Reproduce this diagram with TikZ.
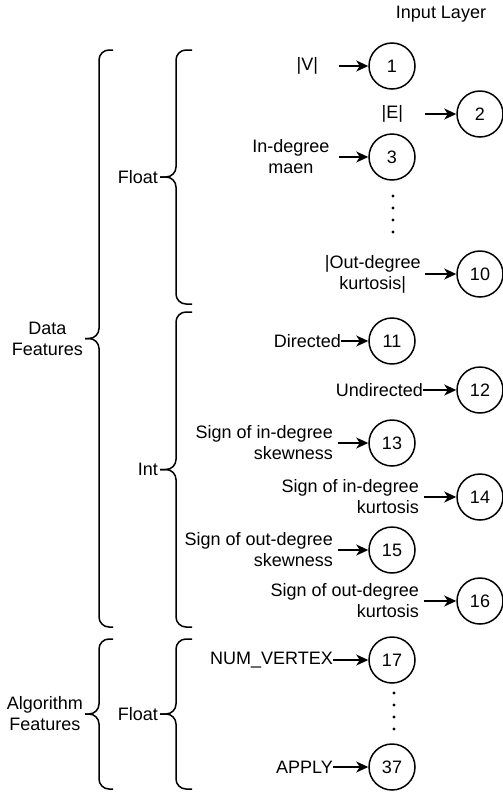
\documentclass[tikz,border=0pt]{standalone}
\usepackage{fontspec}
\setmainfont{Liberation Sans}
\usetikzlibrary{arrows.meta, calc, positioning}
\tikzset{
    neuron/.style={circle, draw, line width=1.5pt, fill=white, inner sep=0pt, minimum size=46pt, font=\fontsize{18}{21}\selectfont},
    featLabel/.style={inner sep=0pt, align=center, font=\fontsize{18}{21}\selectfont},
    signLabel/.style={inner xsep=5pt, inner ysep=0pt, align=right, font=\fontsize{18}{21}\selectfont},
    groupLabel/.style={inner xsep=2pt, inner ysep=0pt, align=center, font=\fontsize{18}{21}\selectfont},
    featEdge/.style={->, >={Stealth[length=12pt, width=11pt, inset=3.5pt]}, line width=1.5pt},
    braceLine/.style={line width=1.5pt, rounded corners=10pt},
}
\newcommand{\drawBrace}[5]{
    % 计算中点和尖端
    \coordinate (#5mid) at ($(#1)!0.5!(#2)$);
    \coordinate (#5tip) at ($(#5mid)+(-#3,0)$);
    % 上半和下半分开画
    \draw[braceLine] (#1) -- ($(#1)+(-#3/2,0)$) -- ($(#5mid)+(-#3/2,0)$) -- (#5tip);
    \draw[braceLine] (#5tip) -- ($(#5mid)+(-#3/2,0)$) -- ($(#2)+(-#3/2,0)$) -- (#2);
    \node[groupLabel, anchor=east] (#5) at (#5tip) {#4};
}
\newcommand{\feedLink}[2]{\draw[featEdge] (#1.east) -- (#2);}

\begin{document}
\begin{tikzpicture}[x=1pt, y=-1pt]
    \useasboundingbox (0,0) rectangle (503,793);

    \node[featLabel] (inputTitle) at (441,14) {Input Layer};

    \node[neuron] (c1) at (392,66) {1};
    \node[neuron] (c2) at (480,114) {2};
    \node[neuron] (c3) at (392,157) {3};
    \node[neuron] (c10) at (480,274) {10};
    \node[neuron] (c11) at (392,341) {11};
    \node[neuron] (c12) at (480,390) {12};
    \node[neuron] (c13) at (392,443) {13};
    \node[neuron] (c14) at (480,497) {14};
    \node[neuron] (c15) at (392,550) {15};
    \node[neuron] (c16) at (480,601) {16};
    \node[neuron] (c17) at (392,660) {17};
    \node[neuron] (c37) at (392,767) {37};

    \node[featLabel, anchor=east, minimum width=63pt] (l1) at (339,66) {|V|};
    \node[featLabel, anchor=east, minimum width=65pt] (l2) at (425,114) {|E|};
    \node[featLabel, anchor=east, minimum width=96pt] (l3) at (339,157) {In-degree\\maen};
    \node[featLabel, anchor=east, minimum width=104pt] (l10) at (425,274) {|Out-degree\\kurtosis|};
    \node[featLabel, anchor=east] (l11) at (341,341) {Directed};
    \node[featLabel, anchor=east] (l12) at (423,390) {Undirected};
    \node[signLabel, anchor=east] (l13) at (338,443) {Sign of in-degree\\skewness};
    \node[signLabel, anchor=east] (l14) at (424,497) {Sign of in-degree\\kurtosis};
    \node[signLabel, anchor=east] (l15) at (338,550) {Sign of out-degree\\skewness};
    \node[signLabel, anchor=east] (l16) at (424,601) {Sign of out-degree\\kurtosis};
    \node[featLabel, anchor=east] (l17) at (333,660) {NUM\_VERTEX};
    \node[featLabel, anchor=east] (l37) at (333,767) {APPLY};

    \foreach \n in {1,2,3,10,11,12,13,14,15,16,17,37}{
        \feedLink{l\n}{c\n}
    }

    \foreach \y in {196,208,220,232}
        \fill (393,\y) circle (1.6pt);
    \foreach \y in {693,705,717,729}
        \fill (394,\y) circle (1.6pt);

    \coordinate (dataTop) at (113,50);
    \coordinate (dataBot) at (113,627);
    \coordinate (algoTop) at (113,639);
    \coordinate (algoBot) at (113,789);
    \coordinate (floatTop) at (192,50);
    \coordinate (floatBot) at (192,304);
    \coordinate (intTop) at (192,312);
    \coordinate (intBot) at (192,627);
    \coordinate (aFloatTop) at (192,639);
    \coordinate (aFloatBot) at (192,789);

    \drawBrace{dataTop}{dataBot}{28}{Data\\Features}{dataF}
    \drawBrace{algoTop}{algoBot}{28}{Algorithm\\Features}{algoF}
    \drawBrace{floatTop}{floatBot}{32}{Float}{floatD}
    \drawBrace{intTop}{intBot}{32}{Int}{intD}
    \drawBrace{aFloatTop}{aFloatBot}{32}{Float}{floatA}

\end{tikzpicture}
\end{document}
